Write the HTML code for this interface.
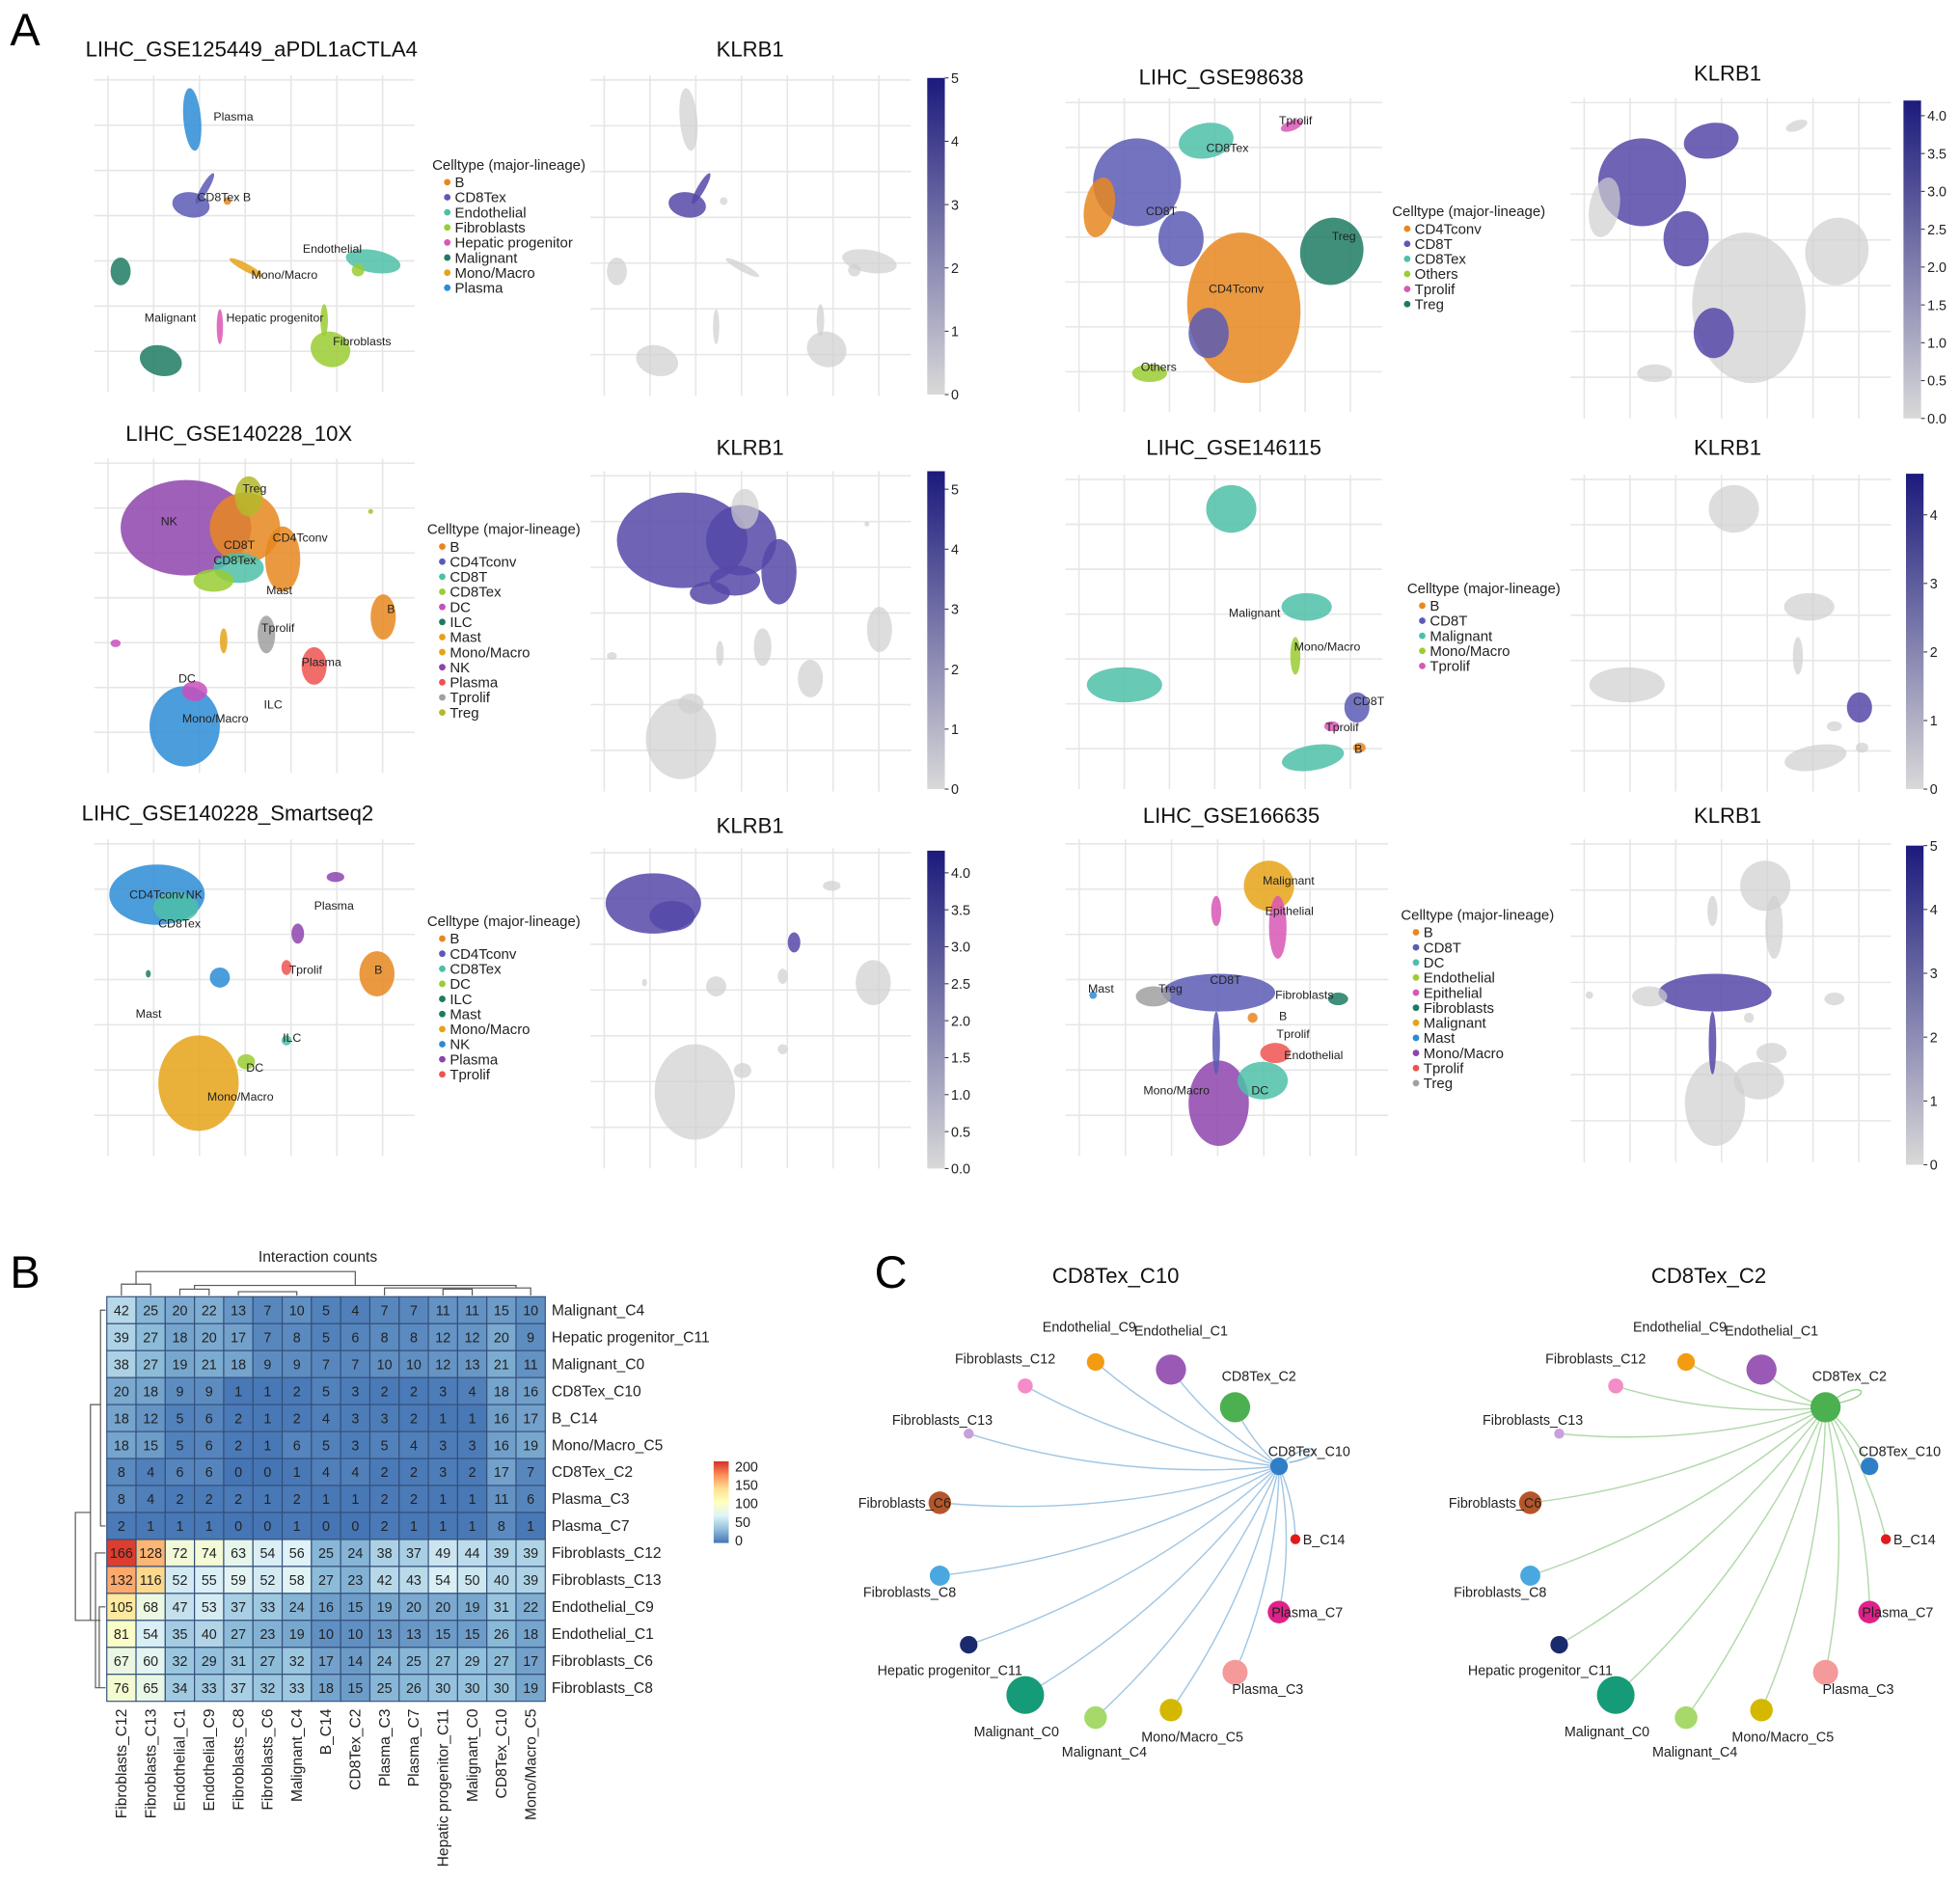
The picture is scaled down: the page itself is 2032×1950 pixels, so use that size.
<!DOCTYPE html>
<html><head><meta charset="utf-8">
<style>
html,body{margin:0;padding:0;background:#fff;}
svg{display:block;font-family:"Liberation Sans",Arial,sans-serif;}
</style></head>
<body>
<svg id="fig" width="2032" height="1950" viewBox="0 0 1560 1497" xmlns="http://www.w3.org/2000/svg">
<defs>
<linearGradient id="klrb" x1="0" y1="1" x2="0" y2="0"><stop offset="0" stop-color="#d9d9d9"/><stop offset="1" stop-color="#1c1a7c"/></linearGradient>
<linearGradient id="heatgrad" x1="0" y1="1" x2="0" y2="0">
<stop offset="0" stop-color="#4575b4"/><stop offset="0.1667" stop-color="#91bfdb"/><stop offset="0.333" stop-color="#e0f3f8"/><stop offset="0.5" stop-color="#ffffbf"/><stop offset="0.667" stop-color="#fee090"/><stop offset="0.833" stop-color="#fc8d59"/><stop offset="1" stop-color="#d73027"/></linearGradient>
</defs>
<text x="8" y="36" font-size="36">A</text>
<text x="8" y="1025" font-size="36">B</text>
<text x="696" y="1025" font-size="36">C</text>
<g id="gA"></g><g id="gB"></g><g id="gC"></g>
</svg>
<script>
const NS="http://www.w3.org/2000/svg";
function mk(parent,tag,attrs,txt){const e=document.createElementNS(NS,tag);for(const k in attrs)e.setAttribute(k,attrs[k]);if(txt!==undefined)e.textContent=txt;parent.appendChild(e);return e;}
const gA=document.getElementById('gA'),gB=document.getElementById('gB'),gC=document.getElementById('gC');

/* ---------------- Panel A: UMAPs ---------------- */
const COL={B:'#e8871e',CD8Tex:'#5b5bb5',Endothelial:'#4dbfa8',Fibroblasts:'#9acd32',Hep:'#d957b5',Malignant:'#1e7b63',Mono:'#e6a317',Plasma:'#2b8cd6',
CD4Tconv:'#e8871e',CD8T:'#5b5bb5',Others:'#9acd32',Tprolif:'#d957b5',Treg:'#1e7b63',NK:'#8e44ad',DC:'#c94fbc',ILC:'#1e7b63',Mast:'#e6a317',Tgray:'#a0a0a0',Red:'#ef5350',Olive:'#b5b82a',Teal:'#4dbfa8'};
function grid(g,x0,y0,x1,y1){
  const bg=mk(g,'g',{});
  
  
  const nv=7,nh=7;
  for(let i=0;i<nv;i++){const x=x0+(x1-x0)*(i+0.3)/nv;mk(bg,'line',{x1:x,y1:y0,x2:x,y2:y1,stroke:'#e6e6e6','stroke-width':1.2});}
  for(let i=0;i<nh;i++){const y=y0+(y1-y0)*(i+0.1)/nh;mk(bg,'line',{x1:x0,y1:y,x2:x1,y2:y,stroke:'#e6e6e6','stroke-width':1.2});}
}
function blobs(g,list,dx,dy,mode){
  list.forEach(b=>{
    let c=COL[b[5]]||b[5];
    if(mode==='gray'){c=b[6]?'#5548a8':'#cfcfcf';}
    const e=mk(g,'ellipse',{cx:b[0]+dx,cy:b[1]+dy,rx:b[2],ry:b[3],transform:`rotate(${b[4]} ${b[0]+dx} ${b[1]+dy})`,fill:c,'fill-opacity':mode==='gray'&&!b[6]?0.7:0.85});
    
    
  });
}
function labels(g,list){list.forEach(l=>{const t=mk(g,'text',{x:l[0],y:l[1],'font-size':9.5,fill:'#222'},l[2]);
  
  });}
function legend(g,x,y,items){
  const t=mk(g,'text',{x:x,y:y,'font-size':11.5,fill:'#222'},'Celltype (major-lineage)');
  
  
  items.forEach((it,i)=>{const yy=y+14+i*12;
    const c=mk(g,'circle',{cx:x+12,cy:yy-4,r:2.6,fill:COL[it[1]]||it[1]});
    
    
    const tt=mk(g,'text',{x:x+18,y:yy,'font-size':11.5,fill:'#222'},it[0]);
    
    });
}
function title(g,x,y,s,anchor){const t=mk(g,'text',{x:x,y:y,'font-size':17,fill:'#111','text-anchor':anchor||'start'},s);
  
  }
function cbar(g,x,y0,y1,maxv,ticks,fmt){
  const r=mk(g,'rect',{x:x,y:y0,width:14,height:y1-y0,fill:'url(#klrb)'});
  
  
  ticks.forEach(v=>{const y=y1-(y1-y0)*v/maxv;
    mk(g,'line',{x1:x+14,x2:x+17,y1:y,y2:y,stroke:'#333','stroke-width':0.8});
    const t=mk(g,'text',{x:x+19,y:y+4,'font-size':11,fill:'#222'},fmt(v));
    
    });
}
const f0=v=>String(v), f1=v=>v.toFixed(1);
const t05=[0,1,2,3,4,5], t04=[0,1,2,3,4], tHalf=[0,0.5,1,1.5,2,2.5,3,3.5,4];

const P1=[[153,95,7,25,-5,'Plasma'],[163,150,3,14,30,'CD8Tex',1],[152,163,15,10,10,'CD8Tex',1],[181,160,3,3,0,'B'],
[297,208,22,9,10,'Endothelial'],[285,215,5,5,0,'Fibroblasts'],[96,216,8,11,0,'Malignant'],[196,213,15,3,28,'Mono'],
[175,260,2.5,14,0,'Hep'],[128,287,17,12,15,'Malignant'],[263,278,16,14,20,'Fibroblasts'],[258,255,3,13,0,'Fibroblasts']];
const P2=[[905,145,35,35,0,'CD8T',1],[875,165,12,24,10,'CD4Tconv'],[990,245,45,60,-5,'CD4Tconv'],[960,112,22,14,-10,'Endothelial',1],
[1060,200,25,27,20,'Treg'],[1028,100,9,4,-20,'Tprolif'],[915,297,14,7,0,'Others'],[940,190,18,22,0,'CD8T',1],[962,265,16,20,0,'CD8T',1]];
const P3=[[148,420,52,38,0,'NK',1],[195,420,28,28,0,'CD4Tconv',1],[190,452,20,12,0,'Teal',1],[170,462,16,9,0,'Fibroblasts',1],
[198,395,11,16,0,'Olive'],[225,445,14,26,0,'CD4Tconv',1],[212,505,7,15,0,'Tgray'],[250,530,10,15,0,'Red'],[305,491,10,18,0,'B'],
[147,578,28,32,0,'Plasma'],[155,550,10,8,0,'DC'],[178,510,3,10,0,'Mast'],[92,512,4,3,0,'DC'],[295,407,2,2,0,'Olive']];
const P4=[[980,405,20,19,0,'Teal'],[1040,483,20,11,0,'Teal'],[895,545,30,14,0,'Teal'],[1031,522,4,15,0,'Fibroblasts'],
[1080,563,10,12,0,'CD8T',1],[1060,578,6,4,0,'Tprolif'],[1082,595,5,4,0,'B'],[1045,603,25,10,-10,'Teal']];
const P5=[[125,712,38,24,0,'Plasma',1],[140,722,18,12,0,'Teal',1],[158,862,32,38,0,'Mono'],[196,845,7,6,0,'Fibroblasts'],
[300,775,14,18,0,'B'],[267,698,7,4,0,'NK'],[237,743,5,8,0,'NK',1],[228,770,4,6,0,'Red'],[175,778,8,8,0,'Plasma'],[228,828,4,4,0,'Teal'],[118,775,2,3,0,'Malignant']];
const P6=[[1010,705,20,20,0,'Mono'],[1017,738,7,25,0,'Hep'],[968,725,4,12,0,'Hep'],[970,790,45,15,0,'CD8T',1],[918,793,14,8,0,'Tgray'],
[1065,795,8,5,0,'Malignant'],[1015,838,12,8,0,'Red'],[970,878,24,34,0,'NK'],[1005,860,20,15,0,'Teal'],[997,810,4,4,0,'B'],[870,792,3,3,0,'Plasma'],[968,830,3,25,0,'CD8T',1]];

grid(gA,75,60,330,312); blobs(gA,P1,0,0); title(gA,68,45,'LIHC_GSE125449_aPDL1aCTLA4');
labels(gA,[[170,96,'Plasma'],[157,160,'CD8Tex B'],[241,201,'Endothelial'],[200,222,'Mono/Macro'],[115,256,'Malignant'],[180,256,'Hepatic progenitor'],[265,275,'Fibroblasts']]);
legend(gA,344,135,[['B','B'],['CD8Tex','CD8Tex'],['Endothelial','Endothelial'],['Fibroblasts','Fibroblasts'],['Hepatic progenitor','Hep'],['Malignant','Malignant'],['Mono/Macro','Mono'],['Plasma','Plasma']]);
grid(gA,470,60,725,315); blobs(gA,P1,395,0,'gray'); title(gA,597,45,'KLRB1','middle'); cbar(gA,738,62,314,5,t05,f0);

grid(gA,848,78,1100,328); blobs(gA,P2,0,0); title(gA,972,67,'LIHC_GSE98638','middle');
labels(gA,[[1018,99,'Tprolif'],[960,121,'CD8Tex'],[912,171,'CD8T'],[1060,191,'Treg'],[962,233,'CD4Tconv'],[908,295,'Others']]);
legend(gA,1108,172,[['CD4Tconv','CD4Tconv'],['CD8T','CD8T'],['CD8Tex','Endothelial'],['Others','Others'],['Tprolif','Tprolif'],['Treg','Treg']]);
grid(gA,1250,78,1505,333); blobs(gA,P2,402,0,'gray'); title(gA,1375,64,'KLRB1','middle'); cbar(gA,1515,80,333,4.2,tHalf,f1);

grid(gA,75,365,330,615); blobs(gA,P3,0,0); title(gA,100,351,'LIHC_GSE140228_10X');
labels(gA,[[193,392,'Treg'],[128,418,'NK'],[178,437,'CD8T'],[217,431,'CD4Tconv'],[170,449,'CD8Tex'],[212,473,'Mast'],[208,503,'Tprolif'],[240,530,'Plasma'],[308,488,'B'],[142,543,'DC'],[210,564,'ILC'],[145,575,'Mono/Macro']]);
legend(gA,340,425,[['B','B'],['CD4Tconv','CD8T'],['CD8T','Teal'],['CD8Tex','Fibroblasts'],['DC','DC'],['ILC','Malignant'],['Mast','Mono'],['Mono/Macro','Mono'],['NK','NK'],['Plasma','Red'],['Tprolif','Tgray'],['Treg','Olive']]);
grid(gA,470,375,725,630); blobs(gA,P3,395,10,'gray'); title(gA,597,362,'KLRB1','middle'); cbar(gA,738,375,628,5.3,t05,f0);

grid(gA,848,378,1100,628); blobs(gA,P4,0,0); title(gA,982,362,'LIHC_GSE146115','middle');
labels(gA,[[978,491,'Malignant'],[1030,518,'Mono/Macro'],[1077,561,'CD8T'],[1055,582,'Tprolif'],[1078,599,'B']]);
legend(gA,1120,472,[['B','B'],['CD8T','CD8T'],['Malignant','Teal'],['Mono/Macro','Fibroblasts'],['Tprolif','Hep']]);
grid(gA,1250,378,1505,630); blobs(gA,P4,400,0,'gray'); title(gA,1375,362,'KLRB1','middle'); cbar(gA,1517,377,628,4.6,t04,f0);

grid(gA,75,668,330,920); blobs(gA,P5,0,0); title(gA,65,653,'LIHC_GSE140228_Smartseq2');
labels(gA,[[103,715,'CD4Tconv'],[148,715,'NK'],[126,738,'CD8Tex'],[250,724,'Plasma'],[230,775,'Tprolif'],[298,775,'B'],[108,810,'Mast'],[225,829,'ILC'],[196,853,'DC'],[165,876,'Mono/Macro']]);
legend(gA,340,737,[['B','B'],['CD4Tconv','CD8T'],['CD8Tex','Teal'],['DC','Fibroblasts'],['ILC','Malignant'],['Mast','Malignant'],['Mono/Macro','Mono'],['NK','Plasma'],['Plasma','NK'],['Tprolif','Red']]);
grid(gA,470,675,725,930); blobs(gA,P5,395,7,'gray'); title(gA,597,663,'KLRB1','middle'); cbar(gA,738,677,930,4.3,tHalf,f1);

grid(gA,848,668,1105,920); blobs(gA,P6,0,0); title(gA,980,655,'LIHC_GSE166635','middle');
labels(gA,[[1005,704,'Malignant'],[1007,728,'Epithelial'],[866,790,'Mast'],[922,790,'Treg'],[963,783,'CD8T'],[1015,795,'Fibroblasts'],[1018,812,'B'],[1016,826,'Tprolif'],[1022,843,'Endothelial'],[910,871,'Mono/Macro'],[996,871,'DC']]);
legend(gA,1115,732,[['B','B'],['CD8T','CD8T'],['DC','Teal'],['Endothelial','Fibroblasts'],['Epithelial','Hep'],['Fibroblasts','Malignant'],['Malignant','Mono'],['Mast','Plasma'],['Mono/Macro','NK'],['Tprolif','Red'],['Treg','Tgray']]);
grid(gA,1250,668,1505,925); blobs(gA,P6,395,0,'gray'); title(gA,1375,655,'KLRB1','middle'); cbar(gA,1517,673,927,5,t05,f0);

/* ---------------- Panel B: heatmap ---------------- */
const rowLabels=['Malignant_C4','Hepatic progenitor_C11','Malignant_C0','CD8Tex_C10','B_C14','Mono/Macro_C5','CD8Tex_C2','Plasma_C3','Plasma_C7','Fibroblasts_C12','Fibroblasts_C13','Endothelial_C9','Endothelial_C1','Fibroblasts_C6','Fibroblasts_C8'];
const colLabels=['Fibroblasts_C12','Fibroblasts_C13','Endothelial_C1','Endothelial_C9','Fibroblasts_C8','Fibroblasts_C6','Malignant_C4','B_C14','CD8Tex_C2','Plasma_C3','Plasma_C7','Hepatic progenitor_C11','Malignant_C0','CD8Tex_C10','Mono/Macro_C5'];
const heatValues=[
[42,25,20,22,13,7,10,5,4,7,7,11,11,15,10],
[39,27,18,20,17,7,8,5,6,8,8,12,12,20,9],
[38,27,19,21,18,9,9,7,7,10,10,12,13,21,11],
[20,18,9,9,1,1,2,5,3,2,2,3,4,18,16],
[18,12,5,6,2,1,2,4,3,3,2,1,1,16,17],
[18,15,5,6,2,1,6,5,3,5,4,3,3,16,19],
[8,4,6,6,0,0,1,4,4,2,2,3,2,17,7],
[8,4,2,2,2,1,2,1,1,2,2,1,1,11,6],
[2,1,1,1,0,0,1,0,0,2,1,1,1,8,1],
[166,128,72,74,63,54,56,25,24,38,37,49,44,39,39],
[132,116,52,55,59,52,58,27,23,42,43,54,50,40,39],
[105,68,47,53,37,33,24,16,15,19,20,20,19,31,22],
[81,54,35,40,27,23,19,10,10,13,13,15,15,26,18],
[67,60,32,29,31,27,32,17,14,24,25,27,29,27,17],
[76,65,34,33,37,32,33,18,15,25,26,30,30,30,19]];
const legendTicks=[0,50,100,150,200];
const HX0=85,HX1=434,HY0=1032,HY1=1354;
const cw=(HX1-HX0)/colLabels.length, ch=(HY1-HY0)/rowLabels.length;
const pal=['#4575b4','#91bfdb','#e0f3f8','#ffffbf','#fee090','#fc8d59','#d73027'];
function hx(h){return [parseInt(h.substr(1,2),16),parseInt(h.substr(3,2),16),parseInt(h.substr(5,2),16)];}
function heatColor(v){let t=Math.max(0,Math.min(1,v/170))*6;const i=Math.min(5,Math.floor(t));const f=t-i;const a=hx(pal[i]),b=hx(pal[i+1]);
  return 'rgb('+a.map((x,k)=>Math.round(x+(b[k]-x)*f)).join(',')+')';}
const xCol=j=>HX0+j*cw, yRow=i=>HY0+i*ch;
const ht=mk(gB,'text',{x:253,y:1004,'font-size':12,'text-anchor':'middle',fill:'#222'},'Interaction counts');


heatValues.forEach((row,i)=>row.forEach((v,j)=>{
  const r=mk(gB,'rect',{x:xCol(j),y:yRow(i),width:cw,height:ch,fill:heatColor(v),stroke:'#34507a','stroke-width':0.9});
  
  
  const t=mk(gB,'text',{x:xCol(j)+cw/2,y:yRow(i)+ch/2+4,'font-size':11,'text-anchor':'middle',fill:'#222'},String(v));
  
  
}));
rowLabels.forEach((s,i)=>{const t=mk(gB,'text',{x:HX1+5,y:yRow(i)+ch/2+4,'font-size':12,fill:'#222'},s);
  
  });
colLabels.forEach((s,j)=>{const x=xCol(j)+cw/2+4,y=HY1+6;const t=mk(gB,'text',{x:x,y:y,'font-size':12,'text-anchor':'end',fill:'#222',transform:`rotate(-90 ${x} ${y})`},s);
  
  });
const dend=mk(gB,'path',{fill:'none',stroke:'#555','stroke-width':0.9,d:
`M${xCol(0)+cw/2} 1031V1022H${xCol(1)+cw/2}V1031 M${(xCol(0)+xCol(1))/2+cw/2} 1022V1012H${(xCol(2)+xCol(14))/2+cw/2}V1023
M${xCol(2)+cw/2} 1031V1026H${xCol(3)+cw/2}V1031 M${xCol(2)+cw} 1026V1023H${xCol(14)}V1025 M${xCol(4)+cw/2} 1031V1028H${xCol(6)+cw/2}V1031
M${xCol(9)+cw/2} 1031V1025H${xCol(14)+cw/2}V1031 M${xCol(11)+cw/2} 1031V1026H${xCol(12)+cw/2}V1031
M84 ${yRow(0)+ch/2}H80V${yRow(8)+ch/2}H84 M80 ${yRow(4)}H72V${yRow(12)}H80 M84 ${yRow(9)+ch/2}H76V${yRow(14)+ch/2}H84 M72 ${yRow(8)}H60V${yRow(12)}H72 M84 ${yRow(11)+ch/2}H79V${yRow(14)+ch/2}H84`});


const LB0=1228,LB1=1163;
const lr=mk(gB,'rect',{x:568,y:LB1,width:12,height:LB0-LB1,fill:'url(#heatgrad)'});


legendTicks.forEach(v=>{const y=LB0-2-(LB0-LB1-6)*v/200;const t=mk(gB,'text',{x:585,y:y+4,'font-size':11,fill:'#222'},String(v));
  
  });

/* ---------------- Panel C: networks ---------------- */
const nodeNames=['Endothelial_C9','Endothelial_C1','Fibroblasts_C12','CD8Tex_C2','Fibroblasts_C13','CD8Tex_C10','Fibroblasts_C6','B_C14','Fibroblasts_C8','Plasma_C7','Hepatic progenitor_C11','Plasma_C3','Malignant_C0','Malignant_C4','Mono/Macro_C5'];
const nodeSizes=[7,12,6,12,4,7,9,4,8,9,7,10,15,9,9];
const nodeColors=['#f39c12','#9b59b6','#f48cc8','#4cb050','#c7a0dc','#2f7fc8','#b5562a','#e31a1c','#4aa8e0','#e0218a','#1a2a6c','#f49a9a','#169b78','#a6d96a','#d4b800'];
const nodeX=[872,932,816,983,771,1018,748,1031,748,1018,771,983,816,872,932];
const nodeY=[1084,1090,1103,1120,1141,1167,1196,1225,1254,1283,1309,1331,1349,1367,1361];
const labelPos=[[-5,-24,'middle'],[8,-27,'middle'],[-16,-18,'middle'],[19,-21,'middle'],[-21,-7,'middle'],[24,-8,'middle'],[-28,4,'middle'],[6,4,'start'],[-24,17,'middle'],[-6,4,'start'],[-15,24,'middle'],[26,17,'middle'],[-7,33,'middle'],[7,31,'middle'],[17,25,'middle']];
function network(g,dx,src,ecol,ttl,tx){
  const pos=nodeX.map((x,i)=>[x+dx,nodeY[i]]);
  const t=mk(g,'text',{x:tx,y:1021,'font-size':17,'text-anchor':'middle',fill:'#111'},ttl);
  
  
  const [sx,sy]=pos[src];
  pos.forEach((p,i)=>{if(i===src)return;
    const mx=(sx+p[0])/2,my=(sy+p[1])/2;const ddx=p[0]-sx,ddy=p[1]-sy;const qx=mx+ddy*0.1,qy=my-ddx*0.1;
    const e=mk(g,'path',{d:`M${sx} ${sy}Q${qx} ${qy} ${p[0]} ${p[1]}`,fill:'none',stroke:ecol,'stroke-width':1.1,'stroke-opacity':0.8});
    
    });
  const loop=mk(g,'path',{d:`M${sx} ${sy}C${sx+25} ${sy-25} ${sx+45} ${sy-10} ${sx+8} ${sy-3}`,fill:'none',stroke:ecol,'stroke-width':1.1});
  
  
  pos.forEach((p,i)=>{
    const c=mk(g,'circle',{cx:p[0],cy:p[1],r:nodeSizes[i],fill:nodeColors[i]});
    
    
    const lp=labelPos[i];
    const tt=mk(g,'text',{x:p[0]+lp[0],y:p[1]+lp[1],'font-size':11,'text-anchor':lp[2],fill:'#222'},nodeNames[i]);
    
    
  });
}
network(gC,0,5,'#8ab8dc','CD8Tex_C10',888);
network(gC,470,3,'#9ccf94','CD8Tex_C2',1360);
</script>
</body></html>
